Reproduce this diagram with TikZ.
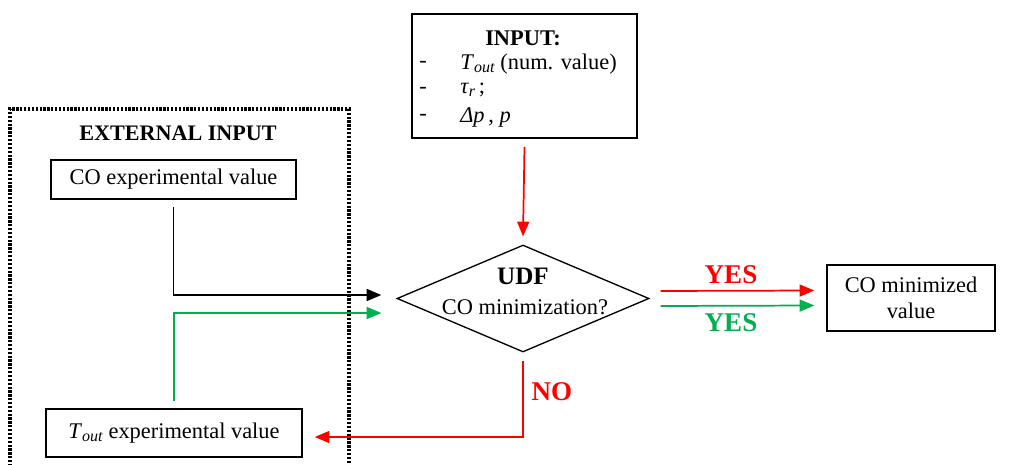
\documentclass[tikz,border=0pt]{standalone}
\usepackage{fontspec}
\setmainfont{Liberation Serif}
\usetikzlibrary{shapes.geometric,arrows.meta,calc}
\definecolor{myred}{RGB}{255,0,0}
\definecolor{mygreen}{RGB}{0,176,80}
\newcommand{\mysub}[1]{\raisebox{-0.3ex}{\fontsize{12}{12}\selectfont\textit{#1}}}
\begin{document}
\begin{tikzpicture}[x=0.75pt,y=-0.75pt,
  every node/.style={font=\fontsize{16.8}{19.5}\selectfont, inner sep=0pt},
  box/.style={draw, line width=1.2pt},
  arr/.style={line width=1.3pt, -{Triangle[length=11pt,width=9pt]}},
  lbl/.style={font=\bfseries\fontsize{20.3}{22}\selectfont},
]
\useasboundingbox (0,0) rectangle (1010,464);
\fill[white] (0,0) rectangle (1010,464);

% dotted external frame
\draw[line width=2.5pt, dash pattern=on 1.7pt off 1.2pt] (10,470) -- (10,109) -- (349,109) -- (349,470);
\node[font=\bfseries\fontsize{16.6}{19.5}\selectfont] (ext) at (178,133) {EXTERNAL INPUT};

% boxes
\node[box, minimum width=183.75pt, minimum height=29.25pt] (coexp) at (173.5,179.5) {CO experimental value};
\node[box, minimum width=192pt, minimum height=36pt] (tout) at (174,433) {\textit{T}\mysub{out} experimental value};
\node[box, minimum width=168.75pt, minimum height=93pt] (input) at (524.5,76) {};
\node[box, minimum width=126pt, minimum height=49.5pt, align=center] (comin) at (911,298) {CO minimized\\value};
\node[draw, line width=1pt, shape=diamond, aspect=2.355, minimum width=189pt, minimum height=80.25pt] (udf) at (523,298.5) {};

% diamond text
\node[font=\bfseries\fontsize{18.8}{21}\selectfont] (udft) at (523,276) {UDF};
\node (comq) at (525,307) {CO minimization?};

% INPUT box text
\node[font=\bfseries\fontsize{16.8}{19.5}\selectfont] (inh) at (523,38) {INPUT:};
\node (d1) at (423,64) {-};
\node (d2) at (423,90) {-};
\node (d3) at (423,117) {-};
\node[anchor=west] (i1) at (460,64) {\textit{T}\mysub{out} (num. value)};
\node[anchor=west] (i2) at (460,90) {\textit{τ}\mysub{r}\,;};
\node[anchor=west] (i3) at (460,117) {\textit{Δp}\,, \textit{p}};

% connectors
\draw[arr, myred] ($(input.south)+(0,8)$) -- ($(udf.north)+(0,-8)$);
\draw[arr] ($(coexp.south)+(0,7)$) |- ($(udf.west)+(-15,-3.5)$);
\draw[arr, mygreen] ($(tout.north)+(0,-7)$) |- ($(udf.west)+(-15,14.5)$);
\draw[arr, myred] ($(udf.east)+(11,-7.5)$) -- ($(comin.west)+(-12,-7.5)$);
\draw[arr, mygreen] ($(udf.east)+(11,7.5)$) -- ($(comin.west)+(-12,7.5)$);
\draw[arr, myred] ($(udf.south)+(0,8)$) |- ($(tout.east)+(12,4)$);

% labels
\node[lbl, text=myred] (yes1) at (731,275) {YES};
\node[lbl, text=mygreen] (yes2) at (731,323) {YES};
\node[lbl, text=myred] (no) at (552,392) {NO};
\end{tikzpicture}
\end{document}
